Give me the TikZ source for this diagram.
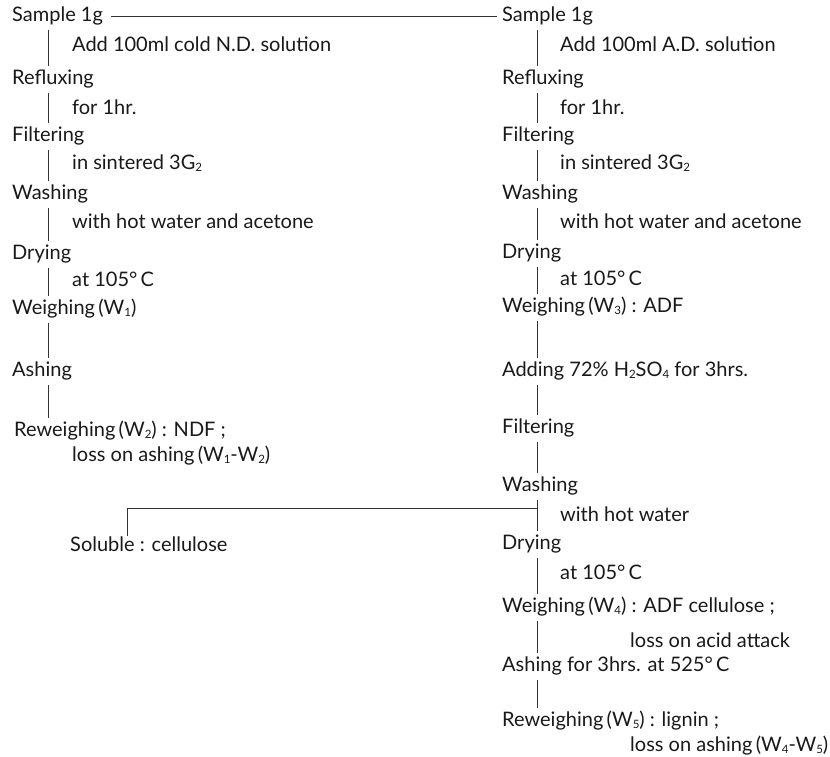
\documentclass[tikz,border=0pt]{standalone}
\usepackage{fontspec}
\setmainfont{Lato}
\newcommand\mysub[1]{\raisebox{-0.25ex}{\fontsize{11.5}{12}\selectfont #1}}
\begin{document}
\begin{tikzpicture}[x=1pt,y=-1pt,
  lbl/.style={anchor=base west, inner sep=0pt, text height=14pt, text depth=4pt,
    font=\fontsize{20}{24}\selectfont, text=black!90},
  ln/.style={draw=black!80, line width=0.9pt},
  vseg/.style={ln, shorten <=5pt, shorten >=4pt}]
\useasboundingbox (0,0) rectangle (830,756);
\coordinate (LX) at (48,0);
\coordinate (RX) at (537,0);
\coordinate (BX) at (127,0);
% left column
\node[lbl] (a1) at (12,21) {Sample 1g};
\node[lbl] (a1n) at (72,51) {Add 100ml cold N.D. solution};
\node[lbl] (a2) at (12,84) {Refluxing};
\node[lbl] (a2n) at (72,114) {for 1hr.};
\node[lbl] (a3) at (12,141) {Filtering};
\node[lbl] (a3n) at (72,169) {in sintered 3G\mysub{2}};
\node[lbl] (a4) at (12,199) {Washing};
\node[lbl] (a4n) at (72,228) {with hot water and acetone};
\node[lbl] (a5) at (12,259) {Drying};
\node[lbl] (a5n) at (72,286) {at 105°\,C};
\node[lbl] (a6) at (12,314) {Weighing\,(W\mysub{1})};
\node[lbl] (a7) at (12,376) {Ashing};
\node[lbl] (a8) at (14,436) {Reweighing\,(W\mysub{2}) : NDF ;};
\node[lbl] (a8n) at (72,461) {loss on ashing\,(W\mysub{1}-W\mysub{2})};
\node[lbl] (sol) at (70,551) {Soluble : cellulose};
% right column
\node[lbl] (b1) at (502,21) {Sample 1g};
\node[lbl] (b1n) at (560,51) {Add 100ml A.D. solution};
\node[lbl] (b2) at (502,84) {Refluxing};
\node[lbl] (b2n) at (560,114) {for 1hr.};
\node[lbl] (b3) at (502,141) {Filtering};
\node[lbl] (b3n) at (560,169) {in sintered 3G\mysub{2}};
\node[lbl] (b4) at (502,199) {Washing};
\node[lbl] (b4n) at (560,228) {with hot water and acetone};
\node[lbl] (b5) at (502,258) {Drying};
\node[lbl] (b5n) at (560,285) {at 105°\,C};
\node[lbl] (b6) at (502,312) {Weighing\,(W\mysub{3}) : ADF};
\node[lbl] (b7) at (502,376) {Adding 72\% H\mysub{2}SO\mysub{4} for 3hrs.};
\node[lbl] (b8) at (502,433) {Filtering};
\node[lbl] (b9) at (502,491) {Washing};
\node[lbl] (b9n) at (560,521) {with hot water};
\node[lbl] (b10) at (502,549) {Drying};
\node[lbl] (b10n) at (560,579) {at 105°\,C};
\node[lbl] (b11) at (502,612) {Weighing\,(W\mysub{4}) : ADF cellulose ;};
\node[lbl] (b11n) at (630,647) {loss on acid attack};
\node[lbl] (b12) at (502,671) {Ashing for 3hrs. at 525°\,C};
\node[lbl] (b13) at (502,726) {Reweighing\,(W\mysub{5}) : lignin ;};
\node[lbl] (b13n) at (630,751) {loss on ashing\,(W\mysub{4}-W\mysub{5})};
% connectors
\draw[ln, shorten <=8pt, shorten >=5pt] (a1.east) -- (b1.west);
\foreach \u/\v in {a1/a2,a2/a3,a3/a4,a4/a5,a5/a6,a6/a7,a7/a8}
  \draw[vseg] (\u.south -| LX) -- (\v.north -| LX);
\foreach \u/\v in {b1/b2,b2/b3,b3/b4,b4/b5,b5/b6,b6/b7,b7/b8,b8/b9,b9/b10,b10/b11,b11/b12,b12/b13}
  \draw[vseg] (\u.south -| RX) -- (\v.north -| RX);
\coordinate (J) at (537,508);
\draw[ln, shorten <=1pt] (sol.north -| BX) |- (J);
\end{tikzpicture}
\end{document}
